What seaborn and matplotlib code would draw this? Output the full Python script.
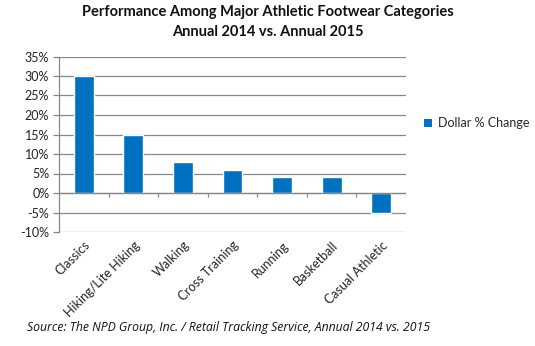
import matplotlib
matplotlib.use("Agg")
import matplotlib.pyplot as plt
import seaborn as sns
import pandas as pd
from matplotlib.patches import Patch

categories = ["Classics", "Hiking/Lite Hiking", "Walking", "Cross Training",
              "Running", "Basketball", "Casual Athletic"]
values = [30, 15, 8, 6, 4, 4, -5]
yticks = [-10, -5, 0, 5, 10, 15, 20, 25, 30, 35]
series_name = "Dollar % Change"
title = "Performance Among Major Athletic Footwear Categories\nAnnual 2014 vs. Annual 2015"
source = "Source: The NPD Group, Inc. / Retail Tracking Service, Annual 2014 vs. 2015"

sns.set_style("white")
plt.rcParams["font.family"] = ["Lato", "DejaVu Sans"]

W, H = 535, 346
fig = plt.figure(figsize=(W / 100, H / 100), dpi=100)
ax = fig.add_axes([59 / W, 1 - 232 / H, (406 - 59) / W, (232 - 56.5) / H])

df = pd.DataFrame({"cat": categories, "val": values})
bar_color = "#0070C0"
sns.barplot(data=df, x="cat", y="val", color=bar_color, width=0.4, ax=ax,
            saturation=1)

ax.set_ylim(min(yticks), max(yticks))
ax.set_xlim(-0.5, len(categories) - 0.5)
ax.set_yticks(yticks)
ax.set_yticklabels([f"{t}%" for t in yticks], fontsize=9, color="#222222")
ax.yaxis.grid(True, color="#888888", linewidth=0.9)
ax.set_axisbelow(True)
for s in ["top", "right", "bottom"]:
    ax.spines[s].set_visible(False)
ax.spines["left"].set_color("#888888")
ax.spines["left"].set_linewidth(0.9)
ax.tick_params(axis="y", length=4, color="#888888", width=0.9, pad=3, left=True)
ax.tick_params(axis="x", length=0, pad=5)
ax.set_xlabel("")
ax.set_ylabel("")
ax.set_xticks(range(len(categories)))
ax.set_xticklabels(categories, rotation=45, ha="right", rotation_mode="anchor",
                   fontsize=9, color="#222222")

# zero line and category boundary ticks
ax.axhline(0, color="#888888", linewidth=0.9, zorder=1)
bounds = [i - 0.5 for i in range(1, len(categories) + 1)]
ax.vlines(bounds, -1.1, 0, color="#888888", linewidth=0.9, zorder=1)

# legend
handles = [Patch(facecolor=bar_color, edgecolor="none", label=series_name)]
fig.legend(handles=handles, loc="center left", bbox_to_anchor=(424 / W, 1 - 123 / H),
           frameon=False, fontsize=9, handlelength=0.6, handleheight=0.6,
           handletextpad=0.5, borderaxespad=0, borderpad=0)

fig.text(0.5, 1 - 22 / H, title, ha="center", va="center", fontsize=10.5,
         fontweight="bold", linespacing=1.55, color="#111111")
fig.text(27 / W, 1 - 328 / H, source, ha="left", va="center", fontsize=8.8,
         style="italic", color="#111111", family=["Open Sans", "DejaVu Sans"])

fig.savefig("out.png", dpi=100)
